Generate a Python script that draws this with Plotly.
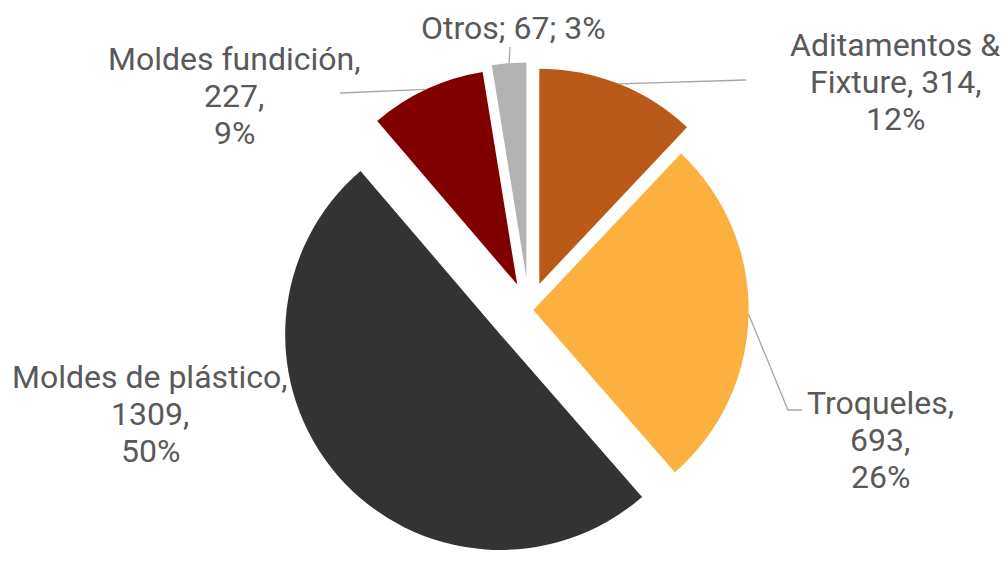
import math
import plotly.graph_objects as go

# ---------------- data ----------------
categories = ["Aditamentos & Fixture", "Troqueles", "Moldes de plástico",
              "Moldes fundición", "Otros"]
values = [314, 693, 1309, 227, 67]
percent_labels = ["12%", "26%", "50%", "9%", "3%"]

# ---------------- style ----------------
colors = ["#B9591A", "#FBB040", "#333333", "#800000", "#B3B3B3"]
pulls = [0.13, 0.02, 0.175, 0.13, 0.15]
FONT = "Roboto"
FONT_SIZE = 32
TEXT_COLOR = "#595959"
LINE_COLOR = "#A6A6A6"
LINE_GAP = 37  # px between label lines

W, H = 1008, 563
CX, CY = 529, 310  # pie centre in pixels

# label placement (pixel centre x, centre y of first line)
label_pos = [(895, 45), (880, 403), (150, 377), (234, 59), (513, 28)]
# leader-line label-side points (pixels)
leader_pts = [[(746, 80)], [(788, 410), (802, 410)], [], [(340, 93)], [(510, 47)]]


def label_lines(i):
    c, v, p = categories[i], values[i], percent_labels[i]
    if c == "Otros":
        return [f"{c}; {v}; {p}"]
    if c == "Aditamentos & Fixture":
        head, tail = c.split(" & ")
        return [f"{head} &", f"{tail}, {v},", p]
    return [f"{c},", f"{v},", p]


def px2paper(x, y):
    return x / W, 1 - y / H


# ---------------- geometry (same as plotly's pie scaling) ----------------
max_pull = max(pulls)
box_h = 2 * (H - CY)
R = box_h / (2 + 2 * max_pull)
dom_y = [0, box_h / H]
dom_x = [2 * CX / W - 1, 1]

total = sum(values)
fig = go.Figure(go.Pie(
    labels=categories,
    values=values,
    sort=False,
    direction="clockwise",
    rotation=0,
    pull=pulls,
    marker=dict(colors=colors, line=dict(width=0)),
    textinfo="none",
    hoverinfo="label+value+percent",
    domain=dict(x=dom_x, y=dom_y),
    showlegend=False,
))

annotations = []
shapes = []
cum = 0
for i, v in enumerate(values):
    frac = v / total
    theta = 2 * math.pi * (cum + frac / 2)
    cum += frac
    dx, dy = math.sin(theta), -math.cos(theta)
    ax = CX + R * (1 + pulls[i]) * dx
    ay = CY + R * (1 + pulls[i]) * dy
    # labels
    lx, ly = label_pos[i]
    for k, line in enumerate(label_lines(i)):
        px, py = px2paper(lx, ly + k * LINE_GAP)
        annotations.append(dict(
            x=px, y=py, xref="paper", yref="paper", text=line,
            showarrow=False, xanchor="center", yanchor="middle",
            font=dict(family=FONT, size=FONT_SIZE, color=TEXT_COLOR),
        ))
    # leader lines
    if leader_pts[i]:
        pts = [(ax, ay)] + leader_pts[i]
        path = ""
        for j, (x, y) in enumerate(pts):
            qx, qy = px2paper(x, y)
            path += ("M" if j == 0 else " L") + f" {qx:.5f},{qy:.5f}"
        shapes.append(dict(type="path", path=path, xref="paper", yref="paper",
                           line=dict(color=LINE_COLOR, width=1.3)))

fig.update_layout(
    width=W, height=H, autosize=False,
    margin=dict(l=0, r=0, t=0, b=0),
    paper_bgcolor="white", plot_bgcolor="white",
    annotations=annotations, shapes=shapes,
)

fig.write_html("out.html",
               config={"displayModeBar": False},
               post_script="document.body.style.margin='0px';")
